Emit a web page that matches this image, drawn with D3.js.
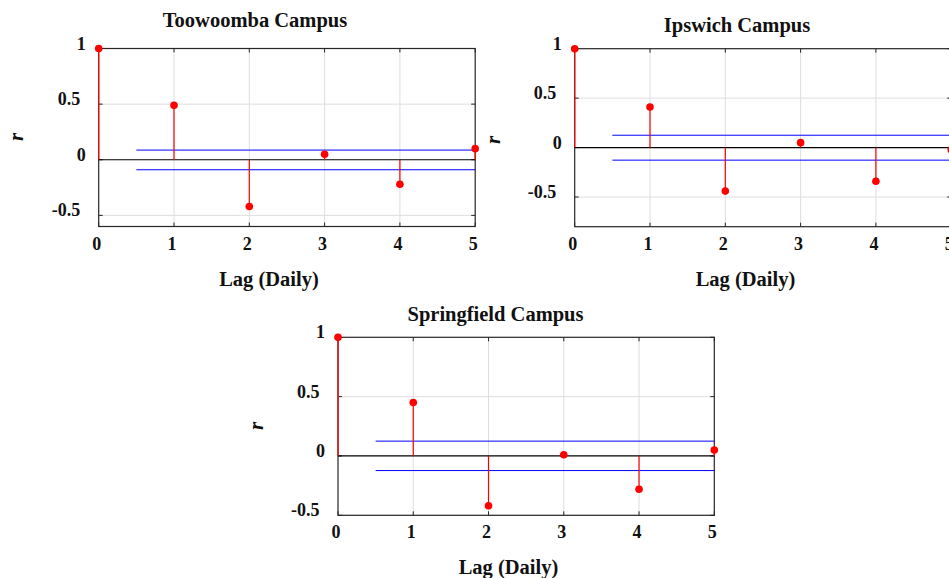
<!DOCTYPE html>
<html>
<head>
<meta charset="utf-8">
<script src="https://cdn.jsdelivr.net/npm/d3@7"></script>
<style>
  body { margin: 0; background: #fff; }
  svg { display: block; }
  text { font-family: "Liberation Serif", "Times New Roman", serif; font-weight: bold; fill: #111; }
</style>
</head>
<body>
<div id="chart"></div>
<script>
// autocorrelation values
const lags = [0, 1, 2, 3, 4, 5];
const toowoombaR = [1, 0.49, -0.42, 0.05, -0.22, 0.10];
const ipswichR = [1, 0.41, -0.44, 0.05, -0.34, -0.02];
const springfieldR = [1, 0.45, -0.42, 0.01, -0.28, 0.05];

// confidence bounds (upper, lower)
const toowoombaBounds = [0.087, -0.09];
const ipswichBounds = [0.125, -0.127];
const springfieldBounds = [0.125, -0.123];

const xTicks = [0, 1, 2, 3, 4, 5];
const yTicks = [-0.5, 0, 0.5, 1];
const titles = ["Toowoomba Campus", "Ipswich Campus", "Springfield Campus"];

const width = 949, height = 578;

const svg = d3.select("#chart").append("svg")
    .attr("width", width)
    .attr("height", height);

const panels = [
    { title: titles[0], r: toowoombaR, bounds: toowoombaBounds, yDomain: [-0.6, 1],
      left: 98.7, top: 48.5, w: 376.5, h: 178,
      titleX: 255, titleY: 27, labelX: 269, labelY: 286, rX: 23, rY: 137 },
    { title: titles[1], r: ipswichR, bounds: ipswichBounds, yDomain: [-0.8, 1],
      left: 574.7, top: 48.7, w: 376.5, h: 178,
      titleX: 737, titleY: 32, labelX: 745.5, labelY: 286, rX: 500, rY: 140 },
    { title: titles[2], r: springfieldR, bounds: springfieldBounds, yDomain: [-0.5, 1],
      left: 338, top: 337.3, w: 376.3, h: 178,
      titleX: 495.5, titleY: 321, labelX: 508.5, labelY: 574, rX: 263, rY: 426 }
];

panels.forEach(drawPanel);

function drawPanel(p) {
    const x = d3.scaleLinear().domain([0, 5]).range([p.left, p.left + p.w]);
    const y = d3.scaleLinear().domain(p.yDomain).range([p.top + p.h, p.top]);

    const g = svg.append("g");

    // grid
    g.append("g").selectAll("line")
        .data(xTicks.slice(1, -1))
        .join("line")
        .attr("x1", d => x(d)).attr("x2", d => x(d))
        .attr("y1", p.top).attr("y2", p.top + p.h)
        .attr("stroke", "#dedede").attr("stroke-width", 1);
    g.append("g").selectAll("line")
        .data(yTicks.filter(d => d !== 0 && d < p.yDomain[1]))
        .join("line")
        .attr("x1", p.left).attr("x2", p.left + p.w)
        .attr("y1", d => y(d)).attr("y2", d => y(d))
        .attr("stroke", "#dedede").attr("stroke-width", 1);

    // box
    g.append("rect")
        .attr("x", p.left).attr("y", p.top)
        .attr("width", p.w).attr("height", p.h)
        .attr("fill", "none").attr("stroke", "#262626").attr("stroke-width", 1.2);

    // inward tick marks on all four sides
    const tl = 4;
    const ticks = g.append("g").attr("stroke", "#262626").attr("stroke-width", 1);
    xTicks.forEach(t => {
        ticks.append("line").attr("x1", x(t)).attr("x2", x(t))
            .attr("y1", p.top + p.h).attr("y2", p.top + p.h - tl);
        ticks.append("line").attr("x1", x(t)).attr("x2", x(t))
            .attr("y1", p.top).attr("y2", p.top + tl);
    });
    yTicks.forEach(t => {
        ticks.append("line").attr("x1", p.left).attr("x2", p.left + tl)
            .attr("y1", y(t)).attr("y2", y(t));
        ticks.append("line").attr("x1", p.left + p.w).attr("x2", p.left + p.w - tl)
            .attr("y1", y(t)).attr("y2", y(t));
    });

    // tick labels
    g.append("g").selectAll("text")
        .data(xTicks)
        .join("text")
        .attr("x", d => x(d) - 2)
        .attr("y", p.top + p.h + 23)
        .attr("text-anchor", "middle")
        .style("font-size", "18px")
        .text(d => d);
    g.append("g").selectAll("text")
        .data(yTicks)
        .join("text")
        .attr("x", d => p.left - (Number.isInteger(d) ? 13 : 18.5))
        .attr("y", d => y(d) + 1)
        .attr("text-anchor", "end")
        .style("font-size", "18px")
        .text(d => d);

    // confidence bounds
    g.append("g").selectAll("line")
        .data(p.bounds)
        .join("line")
        .attr("x1", x(0.5)).attr("x2", x(5))
        .attr("y1", d => y(d)).attr("y2", d => y(d))
        .attr("stroke", "#0000ff").attr("stroke-width", 1);

    // zero line
    g.append("line")
        .attr("x1", x(0)).attr("x2", x(5))
        .attr("y1", y(0)).attr("y2", y(0))
        .attr("stroke", "#000").attr("stroke-width", 1.2);

    // stems
    g.append("g").selectAll("line")
        .data(lags)
        .join("line")
        .attr("x1", d => x(d)).attr("x2", d => x(d))
        .attr("y1", y(0)).attr("y2", (d, i) => y(p.r[i]))
        .attr("stroke", "#ff0000").attr("stroke-width", 1.2);

    // markers
    g.append("g").selectAll("circle")
        .data(lags)
        .join("circle")
        .attr("cx", d => x(d))
        .attr("cy", (d, i) => y(p.r[i]))
        .attr("r", 3.8)
        .attr("fill", "#ff0000");

    // titles and labels
    g.append("text")
        .attr("x", p.titleX).attr("y", p.titleY)
        .attr("text-anchor", "middle")
        .style("font-size", "20.5px")
        .text(p.title);
    g.append("text")
        .attr("x", p.labelX).attr("y", p.labelY)
        .attr("text-anchor", "middle")
        .style("font-size", "20.5px")
        .text("Lag (Daily)");
    g.append("text")
        .attr("transform", `translate(${p.rX},${p.rY}) rotate(-90)`)
        .attr("text-anchor", "middle")
        .style("font-size", "21px")
        .style("font-style", "italic")
        .text("r");
}
</script>
</body>
</html>
